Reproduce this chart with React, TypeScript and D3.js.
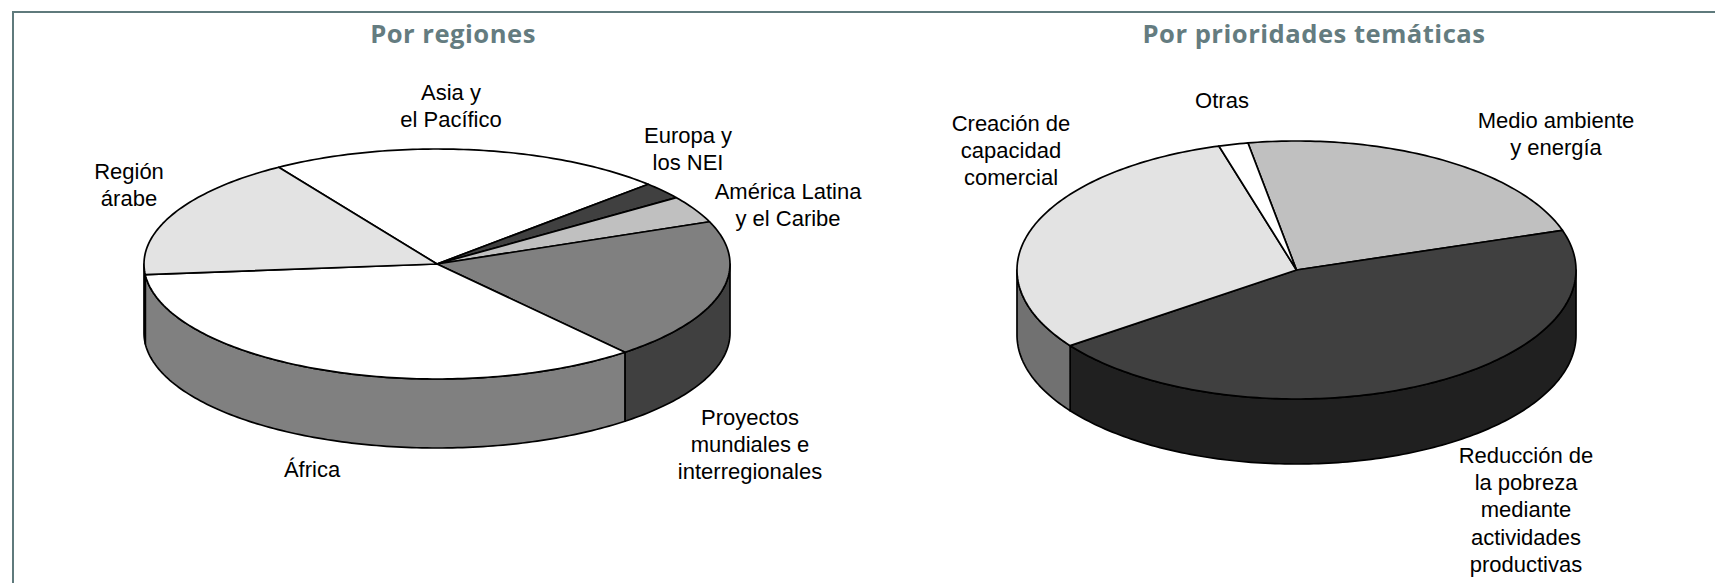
import React from "react";
import * as d3 from "d3";

const regionLabels = ["Asia y el Pacífico", "Europa y los NEI", "América Latina y el Caribe", "Proyectos mundiales e interregionales", "África", "Región árabe"];
const regionValues = [21.9, 2.4, 3.8, 19.9, 34.6, 17.4];
const regionTop = ["#ffffff", "#404040", "#c0c0c0", "#808080", "#ffffff", "#e3e3e3"];
const regionSide = ["#808080", "#202020", "#606060", "#404040", "#808080", "#000000"];

const themeLabels = ["Medio ambiente y energía", "Reducción de la pobreza", "Creación de capacidad comercial", "Otras"];
const themeValues = [22.8, 45.0, 30.5, 1.7];
const themeTop = ["#c0c0c0", "#404040", "#e3e3e3", "#ffffff"];
const themeSide = ["#606060", "#202020", "#717171", "#808080"];

const BORDER = "#5f7a7c";
const TITLE = "#647c80";
const rad = (deg: number) => (deg * Math.PI) / 180;

type PieProps = {
  values: number[];
  names: string[];
  top: string[];
  side: string[];
  start: number;
  cx: number;
  cy: number;
  rx: number;
  ry: number;
  depth: number;
};

function Pie3D({ values, names, top, side, start, cx, cy, rx, ry, depth }: PieProps) {
  const arcs = d3
    .pie<number>()
    .sort(null)
    .startAngle(rad(start))
    .endAngle(rad(start + 360))(values);
  const px = (a: number) => cx + rx * Math.sin(a);
  const py = (a: number) => cy - ry * Math.cos(a);
  const line = d3.line<[number, number]>();

  const topPath = (a0: number, a1: number) => {
    const n = Math.max(2, Math.ceil((a1 - a0) / rad(1)));
    const pts: [number, number][] = d3.range(n + 1).map((i) => {
      const a = a0 + ((a1 - a0) * i) / n;
      return [px(a), py(a)];
    });
    return line([[cx, cy], ...pts]) + "Z";
  };

  const sidePaths = (a0: number, a1: number) => {
    const out: string[] = [];
    for (const k of [-1, 0, 1]) {
      const lo = Math.max(a0, rad(90) + k * 2 * Math.PI);
      const hi = Math.min(a1, rad(270) + k * 2 * Math.PI);
      if (hi <= lo) continue;
      const n = Math.max(2, Math.ceil((hi - lo) / rad(1)));
      const angles = d3.range(n + 1).map((i) => lo + ((hi - lo) * i) / n);
      const upper: [number, number][] = angles.map((a) => [px(a), py(a)]);
      const lower: [number, number][] = angles
        .slice()
        .reverse()
        .map((a) => [px(a), py(a) + depth]);
      out.push(line([...upper, ...lower]) + "Z");
    }
    return out;
  };

  return (
    <g stroke="#000" strokeWidth={1.7} strokeLinejoin="round">
      {arcs.map((d, i) =>
        sidePaths(d.startAngle, d.endAngle).map((p, j) => (
          <path key={`s${i}-${j}`} d={p} fill={side[i]} data-name={names[i]} />
        ))
      )}
      {arcs.map((d, i) => (
        <path key={`t${i}`} d={topPath(d.startAngle, d.endAngle)} fill={top[i]} data-name={names[i]} />
      ))}
    </g>
  );
}

const leftLabels: { lines: string[]; x: number; y: number }[] = [
  { lines: ["Asia y", "el Pacífico"], x: 451, y: 100 },
  { lines: ["Europa y", "los NEI"], x: 688, y: 143 },
  { lines: ["América Latina", "y el Caribe"], x: 788, y: 199 },
  { lines: ["Proyectos", "mundiales e", "interregionales"], x: 750, y: 425 },
  { lines: ["África"], x: 312, y: 477 },
  { lines: ["Región", "árabe"], x: 129, y: 179 },
];
const rightLabels: { lines: string[]; x: number; y: number }[] = [
  { lines: ["Otras"], x: 1222, y: 108 },
  { lines: ["Medio ambiente", "y energía"], x: 1556, y: 128 },
  { lines: ["Creación de", "capacidad", "comercial"], x: 1011, y: 131 },
  { lines: ["Reducción de", "la pobreza", "mediante", "actividades", "productivas"], x: 1526, y: 463 },
];

function Labels({ items }: { items: { lines: string[]; x: number; y: number }[] }) {
  return (
    <g fontFamily="'Liberation Sans', Arial, sans-serif" fontSize={22} fill="#000" textAnchor="middle">
      {items.map((it, i) => (
        <text key={i} x={it.x} y={it.y}>
          {it.lines.map((l, j) => (
            <tspan key={j} x={it.x} y={it.y + j * 27.2}>
              {l}
            </tspan>
          ))}
        </text>
      ))}
    </g>
  );
}

export default function App() {
  return (
    <svg
      width={1715}
      height={583}
      viewBox="0 0 1715 583"
      style={{ position: "fixed", left: 0, top: 0, background: "#fff" }}
    >
      <path d="M13 583V12H1715" fill="none" stroke={BORDER} strokeWidth={2} />
      <g fontFamily="'Open Sans', 'Noto Sans', sans-serif" fontWeight={700} fontSize={25.6} fill={TITLE} textAnchor="middle" letterSpacing={0.5}>
        <text x={453} y={43}>Por regiones</text>
        <text x={1314} y={43}>Por prioridades temáticas</text>
      </g>
      <Pie3D values={regionValues} names={regionLabels} top={regionTop} side={regionSide} start={-32.7} cx={437} cy={264} rx={293} ry={115} depth={69} />
      <Pie3D values={themeValues} names={themeLabels} top={themeTop} side={themeSide} start={-10} cx={1296.5} cy={270} rx={279.5} ry={129} depth={65} />
      <Labels items={leftLabels} />
      <Labels items={rightLabels} />
    </svg>
  );
}
